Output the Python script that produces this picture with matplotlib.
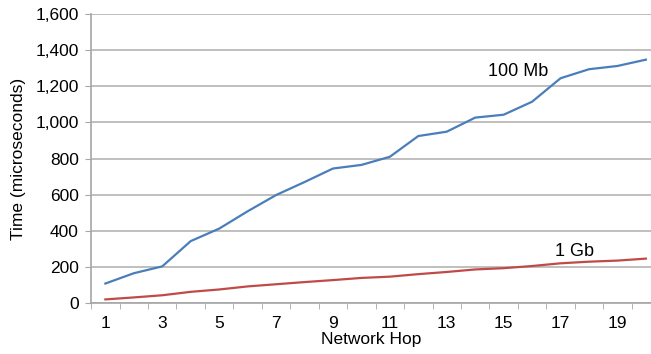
import numpy as np
import matplotlib
matplotlib.use('Agg')
import matplotlib.pyplot as plt
from matplotlib.ticker import FuncFormatter, MultipleLocator

hops = list(range(1, 21))
mb100 = [108, 165, 203, 343, 412, 508, 598, 670, 745, 765, 810, 925, 949, 1027, 1043, 1115, 1245, 1295, 1313, 1348]
gb1 = [20, 31, 43, 62, 75, 92, 104, 116, 127, 139, 146, 160, 172, 186, 193, 205, 220, 229, 235, 246]

plt.rcParams['font.family'] = ['Liberation Sans', 'DejaVu Sans']
plt.rcParams['font.size'] = 12.5

fig = plt.figure(figsize=(6.51, 3.54), dpi=100)
ax = fig.add_axes([0.14, 0.144, 0.86, 0.816])

ax.plot(hops, mb100, color='#4a7ebb', linewidth=1.6)
ax.plot(hops, gb1, color='#be4b48', linewidth=1.6)

ax.text(15.5, 1280, '100 Mb', fontsize=13, ha='center', va='center')
ax.text(17.5, 283, '1 Gb', fontsize=13, ha='center', va='center')

ax.set_xlim(0.5, 20.18)
ax.set_ylim(0, 1600)
ax.set_xticks(hops[::2])
ax.xaxis.set_minor_locator(MultipleLocator(1, offset=0.5))
ax.yaxis.set_major_locator(MultipleLocator(200))
ax.yaxis.set_major_formatter(FuncFormatter(lambda v, p: f'{int(v):,}'))

ax.grid(axis='y', color='#b4b4b4', linewidth=1.2)
ax.set_axisbelow(True)
for s in ['top', 'right']:
    ax.spines[s].set_visible(False)
for s in ['left', 'bottom']:
    ax.spines[s].set_color('#a6a6a6')
    ax.spines[s].set_linewidth(1.2)

ax.tick_params(axis='x', which='major', length=0, pad=9)
ax.tick_params(axis='x', which='minor', length=4, color='#a6a6a6')
ax.tick_params(axis='y', length=4, color='#a6a6a6', pad=5)

ax.set_xlabel('Network Hop', labelpad=1)
ax.set_ylabel('Time (microseconds)', labelpad=7)

fig.savefig('out.png', dpi=100)
